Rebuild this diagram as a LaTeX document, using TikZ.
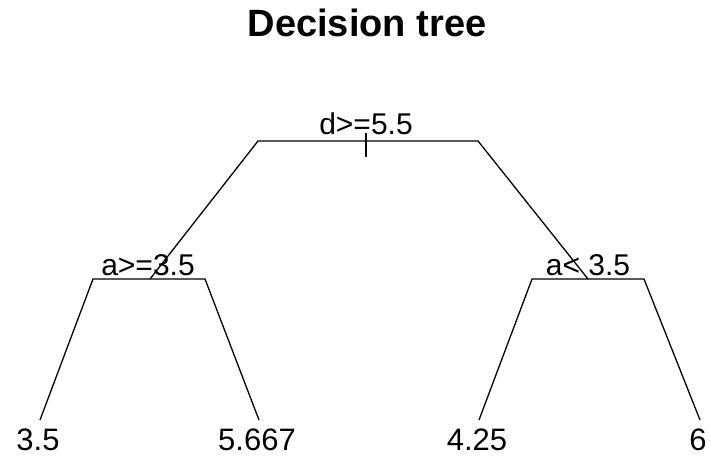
\documentclass[tikz,border=0pt]{standalone}
\usepackage{fontspec}
\setmainfont{Liberation Sans}
\begin{document}
\begin{tikzpicture}[x=1pt,y=-1pt,
  branch/.style={line width=1.3pt,black},
  lab/.style={anchor=base,inner sep=0pt,font=\fontsize{30}{30}\selectfont},
  leaflab/.style={anchor=base,inner sep=0pt,font=\fontsize{31}{31}\selectfont},
  ttl/.style={anchor=base,inner sep=0pt,font=\fontsize{38}{38}\selectfont\bfseries}]
\useasboundingbox (0,0) rectangle (711,457);
% tree coordinates
\coordinate (rootL) at (258,141);
\coordinate (rootR) at (478,141);
\coordinate (tickT) at (366,133);
\coordinate (tickB) at (366,157);
\coordinate (nL) at (150,279);
\coordinate (nLL) at (93,279);
\coordinate (nLR) at (205,279);
\coordinate (nR) at (588,279);
\coordinate (nRL) at (532,279);
\coordinate (nRR) at (644,279);
\coordinate (f1) at (40,420);
\coordinate (f2) at (259,420);
\coordinate (f3) at (479,420);
\coordinate (f4) at (700,420);
% branches
\draw[branch] (nL) -- (rootL) -- (rootR) -- (nR);
\draw[branch] (tickT) -- (tickB);
\draw[branch] (f1) -- (nLL) -- (nLR) -- (f2);
\draw[branch] (f3) -- (nRL) -- (nRR) -- (f4);
% labels
\node[ttl] (title) at (367,37) {Decision tree};
\node[lab] (t0) at (366,135) {d>=5.5};
\node[lab] (t1) at (148,275) {a>=3.5};
\node[lab] (t2) at (588,275) {a< 3.5};
\node[leaflab] (v1) at (38,450) {3.5};
\node[leaflab] (v2) at (257,450) {5.667};
\node[leaflab] (v3) at (477,450) {4.25};
\node[leaflab] (v4) at (698,450) {6};
\end{tikzpicture}
\end{document}
